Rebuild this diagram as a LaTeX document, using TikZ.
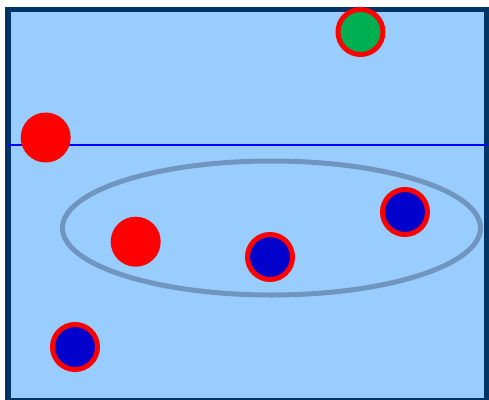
\documentclass[tikz,border=0pt]{standalone}
\begin{document}
\begin{tikzpicture}[x=1pt,y=-1pt,
  frame/.style={draw={rgb,255:red,0;green,51;blue,102},line width=5.5pt,fill={rgb,255:red,153;green,204;blue,255}},
  hline/.style={draw={rgb,255:red,0;green,0;blue,255},line width=2pt},
  ring/.style={draw={rgb,255:red,112;green,150;blue,192},line width=5pt},
  reddot/.style={circle,fill=red,minimum size=50pt,inner sep=0pt},
  bluedot/.style={circle,fill={rgb,255:red,0;green,0;blue,204},draw=red,line width=5pt,minimum size=45pt,inner sep=0pt},
  greendot/.style={circle,fill={rgb,255:red,0;green,176;blue,80},draw=red,line width=5pt,minimum size=45pt,inner sep=0pt}]
\useasboundingbox (0,0) rectangle (489,399);
\clip (0,0) rectangle (489,399);
\draw[frame] (8,9.5) rectangle (487,401);
\coordinate (hl) at (8,144.5);
\coordinate (hr) at (487,144.5);
\draw[hline] (hl) -- (hr);
\draw[ring] (271.5,228) ellipse [x radius=209, y radius=67];
\node[reddot] (r1) at (45.7,137.5) {};
\node[reddot] (r2) at (135.7,241.7) {};
\node[greendot] (g1) at (360.5,32) {};
\node[bluedot] (b1) at (270,257) {};
\node[bluedot] (b2) at (405,212) {};
\node[bluedot] (b3) at (75,347) {};
\end{tikzpicture}
\end{document}
